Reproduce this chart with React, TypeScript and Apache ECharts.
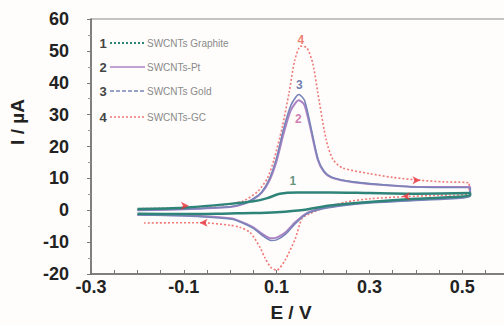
import React, { useEffect, useRef } from "react";
import * as echarts from "echarts";

const xTickLabels = [-0.3, -0.1, 0.1, 0.3, 0.5];
const legendNumbers = ["1", "2", "3", "4"];
const legendNames = ["SWCNTs Graphite", "SWCNTs-Pt", "SWCNTs Gold", "SWCNTs-GC"];
const seriesColors = ["#2f8479", "#ab82c4", "#7884b8", "#f07a78"];

// SWCNTs-GC (curve 4): forward scan then reverse scan, [E (V), I (µA)]
const gcScan: [number, number][] = [
  [-0.19, 0.5], [-0.1, 0.8], [-0.05, 1.2], [0, 2], [0.03, 3], [0.06, 6], [0.08, 10],
  [0.094, 15.7], [0.112, 26], [0.127, 37], [0.139, 47], [0.152, 51.5], [0.165, 51],
  [0.178, 46], [0.192, 34], [0.207, 22], [0.221, 16], [0.242, 13.3], [0.3, 11.5],
  [0.35, 10.3], [0.41, 9.4], [0.46, 8.9], [0.515, 8.5],
  [0.515, 5.2], [0.45, 4.7], [0.38, 4.3], [0.3, 3.6], [0.25, 2.6], [0.2, 0.6],
  [0.17, -1.2], [0.155, -2.5], [0.14, -9], [0.118, -15.7], [0.1, -18.8], [0.088, -18],
  [0.075, -15], [0.064, -11.6], [0.043, -7], [0.02, -5.3], [0, -4.7], [-0.064, -3.9],
  [-0.19, -4],
];

// SWCNTs-Pt (curve 2)
const ptScan: [number, number][] = [
  [-0.2, 0], [-0.1, 0.3], [0, 1], [0.03, 2], [0.05, 3.5], [0.068, 5.5], [0.085, 9.5],
  [0.1, 15.5], [0.115, 24], [0.131, 31.5], [0.148, 34.5], [0.16, 33], [0.174, 25],
  [0.189, 15.7], [0.202, 12], [0.217, 10.3], [0.24, 9.4], [0.265, 8.8], [0.33, 7.9],
  [0.41, 7.3], [0.517, 7.3],
  [0.517, 4.6], [0.4, 3.3], [0.3, 2.5], [0.25, 1.8], [0.2, 0.7], [0.165, -0.9],
  [0.14, -3.8], [0.12, -6.8], [0.1, -8.6], [0.088, -8.8], [0.07, -7.5], [0.049, -5.3],
  [0.015, -3.1], [0, -2.5], [-0.1, -1.6], [-0.2, -1.4],
];

// SWCNTs Gold (curve 3)
const goldScan: [number, number][] = [
  [-0.2, 0.1], [-0.1, 0.4], [0, 1.1], [0.03, 2.1], [0.05, 3.6], [0.068, 5.7], [0.085, 10],
  [0.1, 16.5], [0.115, 25.5], [0.131, 33], [0.148, 36.3], [0.16, 34.5], [0.174, 26],
  [0.189, 16.2], [0.202, 12.3], [0.217, 10.5], [0.24, 9.5], [0.265, 8.9], [0.33, 8],
  [0.41, 7.2], [0.517, 7.1],
  [0.517, 4.4], [0.4, 3.1], [0.3, 2.3], [0.25, 1.6], [0.2, 0.5], [0.165, -1.1],
  [0.14, -4.2], [0.12, -7.4], [0.1, -9.3], [0.088, -9.5], [0.07, -8], [0.049, -5.6],
  [0.015, -3.3], [0, -2.7], [-0.1, -1.8], [-0.2, -1.5],
];

// SWCNTs Graphite (curve 1)
const graphiteScan: [number, number][] = [
  [-0.2, 0.4], [-0.1, 0.8], [0, 2], [0.05, 2.8], [0.08, 3.8], [0.107, 5.2], [0.144, 5.6],
  [0.215, 5.6], [0.3, 5.4], [0.4, 5.2], [0.517, 5.4],
  [0.517, 4.6], [0.4, 3.6], [0.3, 2.6], [0.215, 1.5], [0.157, 0.1], [0.1, -0.6],
  [0.05, -0.9], [0, -1.0], [-0.1, -1.2], [-0.2, -1.1],
];

// scan-direction arrows
const arrowPoints: [number, number][] = [[-0.089, 1.4], [-0.066, -3.9], [0.41, 9.4], [0.37, 4.4]];
const arrowRotations = [-90, 90, -90, 90];

// curve number annotations
const curveLabelPoints: [number, number][] = [[0.135, 9.2], [0.147, 28.5], [0.149, 39.2], [0.152, 53.5]];
const curveLabelColors = ["#3d7a5c", "#c45c9c", "#4c5a9c", "#e8604c"];

const FONT = "'Liberation Sans', Arial, Helvetica, sans-serif";

export default function App() {
  const ref = useRef<HTMLDivElement>(null);

  useEffect(() => {
    if (!ref.current) return;
    const chart = echarts.init(ref.current, undefined, { renderer: "svg" });

    const legendRowsY = [43, 67, 91, 117];
    const legendGraphics: any[] = [];
    legendNumbers.forEach((n, i) => {
      const y = legendRowsY[i];
      legendGraphics.push({
        type: "text",
        x: 103,
        y,
        style: { text: n, fill: "#444", font: `bold 13px ${FONT}`, textAlign: "center", textVerticalAlign: "middle" },
      });
      legendGraphics.push({
        type: "line",
        shape: { x1: 110, y1: y, x2: 145, y2: y },
        style: {
          stroke: seriesColors[i],
          lineWidth: i === 0 ? 2 : 1.6,
          lineDash: i === 0 ? [2, 2] : i === 2 ? [4, 2] : i === 3 ? [2, 2] : null,
        },
      });
      legendGraphics.push({
        type: "text",
        x: 147,
        y,
        style: { text: legendNames[i], fill: "#8a8a8a", font: `10px ${FONT}`, textAlign: "left", textVerticalAlign: "middle" },
      });
    });

    const lineSeries = (name: string, data: [number, number][], color: string, width: number, type: any, z: number) => ({
      name,
      type: "line",
      data,
      showSymbol: false,
      smooth: 0.25,
      z,
      lineStyle: { color, width, type },
      itemStyle: { color },
    });

    chart.setOption({
      animation: false,
      backgroundColor: "#fefdfb",
      grid: { left: 91, top: 19, right: 0, bottom: 51, containLabel: false },
      xAxis: {
        type: "value",
        min: -0.3,
        max: 0.59,
        interval: 0.05,
        axisLine: { show: true, onZero: false, lineStyle: { color: "#555", width: 1.5 } },
        axisTick: { show: true, inside: true, length: 4, lineStyle: { color: "#777" } },
        splitLine: { show: false },
        axisLabel: {
          margin: 4,
          color: "#222",
          fontSize: 18,
          fontWeight: "bold",
          fontFamily: FONT,
          showMaxLabel: false,
          formatter: (v: number) => {
            const hit = xTickLabels.find((t) => Math.abs(t - v) < 1e-6);
            return hit === undefined ? "" : hit.toFixed(1);
          },
        },
      },
      yAxis: {
        type: "value",
        min: -20,
        max: 60,
        interval: 10,
        axisLine: { show: true, onZero: false, lineStyle: { color: "#555", width: 1.5 } },
        axisTick: { show: true, length: 4, lineStyle: { color: "#777" } },
        minorTick: { show: true, splitNumber: 2, length: 3, lineStyle: { color: "#999" } },
        splitLine: { show: false },
        axisLabel: { margin: 22, color: "#222", fontSize: 18, fontWeight: "bold", fontFamily: FONT },
      },
      graphic: [
        { type: "line", shape: { x1: 91, y1: 19, x2: 504, y2: 19 }, style: { stroke: "#c4c4c4", lineWidth: 2 } },
        {
          type: "text",
          x: 17,
          y: 122,
          rotation: Math.PI / 2,
          style: { text: "I / µA", fill: "#222", font: `bold 19px ${FONT}`, textAlign: "center", textVerticalAlign: "middle" },
        },
        {
          type: "text",
          x: 291,
          y: 312,
          style: { text: "E / V", fill: "#222", font: `bold 19px ${FONT}`, textAlign: "center", textVerticalAlign: "middle" },
        },
        ...legendGraphics,
      ],
      series: [
        lineSeries(legendNames[3], gcScan, seriesColors[3], 1.6, [2, 2], 2),
        lineSeries(legendNames[1], ptScan, seriesColors[1], 2, "solid", 3),
        lineSeries(legendNames[2], goldScan, seriesColors[2], 1.6, "solid", 4),
        lineSeries(legendNames[0], graphiteScan, seriesColors[0], 2.5, "solid", 5),
        {
          type: "scatter",
          data: arrowPoints.map((p, i) => ({ value: p, symbolRotate: arrowRotations[i] })),
          symbol: "arrow",
          symbolSize: [6, 8],
          itemStyle: { color: "#e8303a" },
          z: 6,
        },
        {
          type: "scatter",
          data: curveLabelPoints.map((p, i) => ({
            value: p,
            label: { color: curveLabelColors[i], formatter: legendNumbers[i] },
          })),
          symbolSize: 0,
          z: 7,
          label: { show: true, position: "inside", fontSize: 12, fontWeight: "bold", fontFamily: FONT },
        },
      ],
    });

    return () => chart.dispose();
  }, []);

  return <div ref={ref} style={{ position: "fixed", left: 0, top: 0, width: 504, height: 325 }} />;
}
